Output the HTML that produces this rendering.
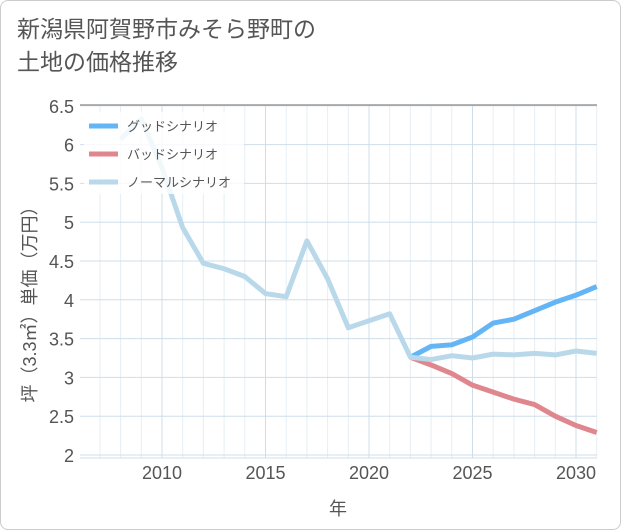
<!DOCTYPE html>
<html><head><meta charset="utf-8"><style>
body{margin:0;background:#fff;font-family:"Liberation Sans","Noto Sans CJK JP",sans-serif}
#card{position:absolute;left:0;top:0;width:619px;height:528px;border:1px solid #ccc;border-radius:8px;background:#fff}
#title{position:absolute;left:17px;top:13px;font-size:23px;line-height:33px;color:#555}
</style></head><body>
<div id="card"></div>
<div id="title">新潟県阿賀野市みそら野町の<br>土地の価格推移</div>
<svg id="chart" width="621" height="530" style="position:absolute;left:0;top:0"></svg>
<script>
const years=[2008,2009,2010,2011,2012,2013,2014,2015,2016,2017,2018,2019,2020,2021,2022,2023,2024,2025,2026,2027,2028,2029,2030,2031];
const normal=[6.07,6.33,5.7,4.93,4.47,4.4,4.3,4.08,4.04,4.76,4.27,3.64,3.73,3.82,3.26,3.23,3.28,3.25,3.3,3.29,3.31,3.29,3.34,3.31];
const goodYears=[2022,2023,2024,2025,2026,2027,2028,2029,2030,2031];
const good=[3.26,3.4,3.42,3.52,3.7,3.75,3.86,3.97,4.06,4.17];
const bad=[3.26,3.16,3.05,2.9,2.81,2.72,2.65,2.5,2.38,2.29];
const yTicks=[2,2.5,3,3.5,4,4.5,5,5.5,6,6.5];
const xTicks=[2010,2015,2020,2025,2030];
const X0=80,X1=597,Y0=105,Y1=458;
const x=v=>162+(v-2010)*20.7;
const y=v=>455-(v-2)*77.6;
const svg=document.getElementById('chart');
const NS='http://www.w3.org/2000/svg';
function mk(t,a,p){const e=document.createElementNS(NS,t);for(const k in a)e.setAttribute(k,a[k]);(p||svg).appendChild(e);return e;}
const bg=mk('rect',{x:X0,y:Y0,width:X1-X0,height:Y1-Y0,fill:'#fff'});


for(let yr=2007;yr<=2031;yr++){if(yr%5==0)continue;const l=mk('line',{x1:x(yr),x2:x(yr),y1:Y0,y2:Y1,stroke:'#e6eef4','stroke-width':1});

}
yTicks.forEach(t=>{const l=mk('line',{x1:X0,x2:X1,y1:y(t),y2:y(t),stroke:'#cfdde8','stroke-width':1});


const tx=mk('text',{x:74,y:y(t)+7,'text-anchor':'end','font-size':18,fill:'#555'});tx.textContent=t;

});
xTicks.forEach(t=>{const l=mk('line',{x1:x(t),x2:x(t),y1:Y0,y2:Y1,stroke:'#cfdde8','stroke-width':1});


const tx=mk('text',{x:x(t),y:479,'text-anchor':'middle','font-size':18,fill:'#555'});tx.textContent=t;

});
const topBorder=mk('line',{x1:X0,x2:X1,y1:Y0,y2:Y0,stroke:'#999','stroke-width':1.5});


const botBorder=mk('line',{x1:X0,x2:X1,y1:Y1,y2:Y1,stroke:'#cfdde8','stroke-width':1});


function line(xs,vs,c,name){const p=mk('polyline',{points:xs.map((v,i)=>x(v)+','+y(vs[i])).join(' '),fill:'none',stroke:c,'stroke-width':5,'stroke-linejoin':'round'});

}
line(goodYears,bad,'#e0868e','bad-scenario-line');
line(goodYears,good,'#64b5f6','good-scenario-line');
line(years,normal,'#b9d9ea','normal-scenario-line');
const lg=mk('rect',{x:84,y:112,width:160,height:82,fill:'rgba(255,255,255,0.8)'});


[['グッドシナリオ','#64b5f6'],['バッドシナリオ','#e0868e'],['ノーマルシナリオ','#b9d9ea']].forEach((d,i)=>{
const yy=126+i*28;
const l=mk('line',{x1:89,x2:118,y1:yy,y2:yy,stroke:d[1],'stroke-width':5});


const t=mk('text',{x:127,y:yy+5,'font-size':13,fill:'#555'});t.textContent=d[0];

});
const yt=mk('text',{x:0,y:0,'font-size':18,fill:'#555','text-anchor':'middle',transform:'translate(36,300) rotate(-90)'});yt.textContent='坪（3.3㎡）単価（万円）';


const xt=mk('text',{x:338,y:515,'font-size':18,fill:'#555','text-anchor':'middle'});xt.textContent='年';


</script>
</body></html>
